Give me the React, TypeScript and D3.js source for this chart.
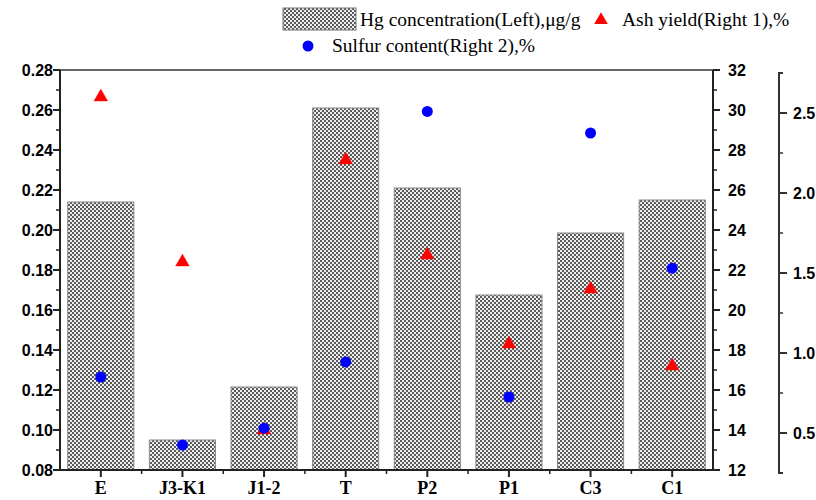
import React from 'react';
import * as d3 from 'd3';

const categories = ['E', 'J3-K1', 'J1-2', 'T', 'P2', 'P1', 'C3', 'C1'];
const hgValues = [0.214, 0.095, 0.1215, 0.261, 0.221, 0.1675, 0.1985, 0.215];
const ashValues = [30.65, 22.4, 14.0, 27.5, 22.75, 18.3, 21.05, 17.2];
const sulfurValues = [0.85, 0.425, 0.53, 0.944, 2.51, 0.725, 2.375, 1.53];

const leftTicks = [0.08, 0.10, 0.12, 0.14, 0.16, 0.18, 0.20, 0.22, 0.24, 0.26, 0.28];
const right1Ticks = [12, 14, 16, 18, 20, 22, 24, 26, 28, 30, 32];
const right2Ticks = [0.5, 1.0, 1.5, 2.0, 2.5];

const W = 816;
const H = 500;
const left = 60;
const right = 713;
const top = 70;
const bottom = 470;
const axis2X = 779;

export default function App() {
  const x = d3.scaleBand().domain(categories).range([left, right]).paddingInner(0.19).paddingOuter(0.095);
  const y = d3.scaleLinear().domain([0.08, 0.28]).range([bottom, top]);
  const y1 = d3.scaleLinear().domain([12, 32]).range([bottom, top]);
  const y2 = d3.scaleLinear().domain([0.25, 2.75]).range([473, 73]);

  const step = x.step();
  const tri = d3.symbol().type(d3.symbolTriangle).size(80)();

  const minorLeft = d3.range(0.09, 0.28, 0.02);
  const minorR1 = d3.range(13, 32, 2);
  const minorR2 = [0.75, 1.25, 1.75, 2.25];

  const tickFont = 'Liberation Sans, Arial, sans-serif';
  const serif = 'Liberation Serif, Times New Roman, serif';

  return (
    <svg width={W} height={H} style={{ position: 'absolute', left: 0, top: 0, background: '#fff' }}>
      <defs>
        <pattern id="hatch" width={4} height={4} patternUnits="userSpaceOnUse">
          <rect width={4} height={4} fill="#eeeeee" />
          <rect x={0} y={0} width={2} height={2} fill="#5a5a5a" />
          <rect x={2} y={2} width={2} height={2} fill="#5a5a5a" />
        </pattern>
      </defs>

      {/* legend */}
      <rect x={283} y={8} width={73} height={22} fill="url(#hatch)" stroke="#777" strokeWidth={1} />
      <text x={360} y={26} fontFamily={serif} fontSize={19.5}>Hg concentration(Left),μg/g</text>
      <path d={tri} transform="translate(601,20)" fill="#f00" />
      <text x={622} y={26} fontFamily={serif} fontSize={19.5}>Ash yield(Right 1),%</text>
      <circle cx={308} cy={46} r={5.5} fill="#00f" />
      <text x={332} y={52} fontFamily={serif} fontSize={19.5}>Sulfur content(Right 2),%</text>

      {/* bars */}
      <g>
        {categories.map((c, i) => (
          <rect key={c} x={x(c)} y={y(hgValues[i])} width={x.bandwidth()} height={bottom - y(hgValues[i])}
            fill="url(#hatch)" stroke="#888" strokeWidth={1} />
        ))}
      </g>

      {/* ash yield */}
      <g>
        {categories.map((c, i) => (
          <path key={c} d={tri} transform={`translate(${x(c)! + x.bandwidth() / 2},${y1(ashValues[i])})`}
            fill="#f00" stroke="#f00" strokeWidth={0.5} />
        ))}
      </g>

      {/* sulfur */}
      <g>
        {categories.map((c, i) => (
          <circle key={c} cx={x(c)! + x.bandwidth() / 2} cy={y2(sulfurValues[i])} r={5.5} fill="#00f" />
        ))}
      </g>

      {/* frame */}
      <line x1={left} x2={right} y1={top} y2={top} stroke="#333" strokeWidth={1.5} />
      <line x1={left} x2={left} y1={top} y2={bottom} stroke="#222" strokeWidth={2} />
      <line x1={right} x2={right} y1={top} y2={bottom} stroke="#222" strokeWidth={2} />
      <line x1={left} x2={right} y1={bottom} y2={bottom} stroke="#222" strokeWidth={2} />

      {/* left axis */}
      {leftTicks.map(t => (
        <g key={t}>
          <line x1={left - 7} x2={left} y1={y(t)} y2={y(t)} stroke="#222" strokeWidth={2} />
          <text x={53} y={y(t)} dy="0.35em" textAnchor="end" fontFamily={tickFont} fontWeight="bold" fontSize={16}>{t.toFixed(2)}</text>
        </g>
      ))}
      {minorLeft.map(t => (
        <line key={t} x1={left - 4} x2={left} y1={y(t)} y2={y(t)} stroke="#222" strokeWidth={1.5} />
      ))}

      {/* right axis 1 */}
      {right1Ticks.map(t => (
        <g key={t}>
          <line x1={right} x2={right + 7} y1={y1(t)} y2={y1(t)} stroke="#222" strokeWidth={2} />
          <text x={728} y={y1(t)} dy="0.35em" fontFamily={tickFont} fontWeight="bold" fontSize={16}>{t}</text>
        </g>
      ))}
      {minorR1.map(t => (
        <line key={t} x1={right} x2={right + 4} y1={y1(t)} y2={y1(t)} stroke="#222" strokeWidth={1.5} />
      ))}

      {/* right axis 2 */}
      <path d={`M${axis2X + 4},${y2(2.75)}H${axis2X}V${y2(0.25)}H${axis2X + 4}`} fill="none" stroke="#333" strokeWidth={2} />
      {right2Ticks.map(t => (
        <g key={t}>
          <line x1={axis2X} x2={axis2X + 8} y1={y2(t)} y2={y2(t)} stroke="#333" strokeWidth={2} />
          <text x={793} y={y2(t)} dy="0.35em" fontFamily={tickFont} fontWeight="bold" fontSize={16}>{t.toFixed(1)}</text>
        </g>
      ))}
      {minorR2.map(t => (
        <line key={t} x1={axis2X} x2={axis2X + 4} y1={y2(t)} y2={y2(t)} stroke="#333" strokeWidth={1.5} />
      ))}

      {/* bottom axis */}
      {categories.map((c, i) => {
        const cx = x(c)! + x.bandwidth() / 2;
        return (
          <g key={c}>
            <line x1={cx} x2={cx} y1={bottom} y2={bottom + 7} stroke="#222" strokeWidth={2} />
            {i > 0 && <line x1={cx - step / 2} x2={cx - step / 2} y1={bottom} y2={bottom + 4} stroke="#222" strokeWidth={1.5} />}
            <text x={cx} y={bottom + 24} textAnchor="middle" fontFamily={serif} fontWeight="bold" fontSize={18}>{c}</text>
          </g>
        );
      })}
    </svg>
  );
}
